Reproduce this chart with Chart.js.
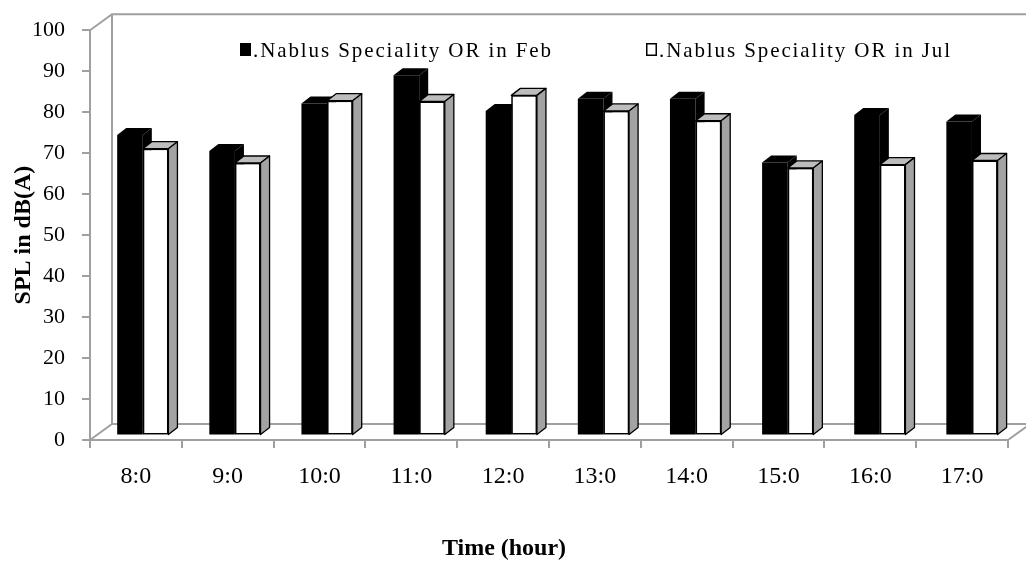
<!DOCTYPE html>
<html>
<head>
<meta charset="utf-8">
<script src="https://cdn.jsdelivr.net/npm/chart.js@4/dist/chart.umd.min.js"></script>
<style>
html,body{margin:0;padding:0;background:#fff;}
#wrap{width:1026px;height:564px;position:relative;}
</style>
</head>
<body>
<div id="wrap"><canvas id="c"></canvas></div>
<script>
// ---- data ----
const categories = ['8:0', '9:0', '10:0', '11:0', '12:0', '13:0', '14:0', '15:0', '16:0', '17:0'];
const seriesNames = ['.Nablus Speciality OR in Feb', '.Nablus Speciality OR in Jul'];
const febValues = [73.3, 69.4, 81.0, 87.9, 79.2, 82.2, 82.2, 66.6, 78.2, 76.6];
const julValues = [70.0, 66.5, 81.7, 81.5, 83.0, 79.2, 76.8, 65.3, 66.1, 67.1];
const yMin = 0, yMax = 100, yStep = 10;
const xTitle = 'Time (hour)';
const yTitle = 'SPL in dB(A)';

// ---- styling ----
const SERIF = "'Liberation Serif', 'Times New Roman', serif";
const GREY = '#a0a0a0';
const DEPTH = {dx: 9, dy: -7};        // bar depth
const WALL = {dx: 22, dy: -16};       // wall depth
const PLANE = {sx: 1.0036, tx: 6.4, ty: -4.5}; // bars plane offset (3D look)
const LEGEND_STYLE = {xs: [240, 646], boxTop: 43, boxW: 11, boxH: 13, textGap: 13, textY: 51, size: 21, spacing: '1.9px'};

Chart.defaults.font.family = SERIF;
Chart.defaults.color = '#000';

function drawFaces(ctx, meta, topFill, sideFill, stroke) {
  const {dx, dy} = DEPTH;
  meta.data.forEach(el => {
    const {x, y, base, width} = el.getProps(['x', 'y', 'base', 'width'], true);
    const l = x - width / 2, r = x + width / 2;
    ctx.beginPath();
    ctx.moveTo(l, y); ctx.lineTo(l + dx, y + dy); ctx.lineTo(r + dx, y + dy); ctx.lineTo(r, y); ctx.closePath();
    ctx.fillStyle = topFill; ctx.fill(); if (stroke) ctx.stroke();
    ctx.beginPath();
    ctx.moveTo(r, y); ctx.lineTo(r + dx, y + dy); ctx.lineTo(r + dx, base + dy); ctx.lineTo(r, base); ctx.closePath();
    ctx.fillStyle = sideFill; ctx.fill(); if (stroke) ctx.stroke();
  });
}

const threeD = {
  id: 'threeD',
  beforeDatasetsDraw(chart) {
    const {ctx, chartArea: a} = chart;
    const {dx, dy} = WALL;
    ctx.save();
    ctx.strokeStyle = GREY; ctx.lineWidth = 2;
    ctx.beginPath();
    ctx.moveTo(a.left, a.top); ctx.lineTo(a.left + dx, a.top + dy); ctx.lineTo(a.right + dx + 40, a.top + dy);
    ctx.moveTo(a.left + dx, a.top + dy); ctx.lineTo(a.left + dx, a.bottom + dy);
    ctx.moveTo(a.left, a.bottom); ctx.lineTo(a.left + dx, a.bottom + dy); ctx.lineTo(a.right + dx + 40, a.bottom + dy);
    ctx.moveTo(a.right, a.bottom); ctx.lineTo(a.right + dx, a.bottom + dy);
    ctx.stroke();
    ctx.restore();
    ctx.save();
    ctx.translate(PLANE.tx, PLANE.ty);
    ctx.scale(PLANE.sx, 1);
  },
  afterDatasetsDraw(chart) {
    const ctx = chart.ctx;
    const m0 = chart.getDatasetMeta(0), m1 = chart.getDatasetMeta(1);
    ctx.save();
    ctx.lineJoin = 'round'; ctx.strokeStyle = '#000'; ctx.lineWidth = 1.3;
    drawFaces(ctx, m0, '#000', '#000', false);
    ctx.restore();
    m1.data.forEach(el => el.draw(ctx));
    ctx.save();
    ctx.lineJoin = 'round'; ctx.strokeStyle = '#000'; ctx.lineWidth = 1.3;
    drawFaces(ctx, m1, '#bdbdbd', '#a3a3a3', true);
    ctx.restore();
    ctx.restore(); // plane translation
  },
  afterDraw(chart) {
    // legend (inside the plot, as in the original)
    const ctx = chart.ctx, L = LEGEND_STYLE;
    ctx.save();
    ctx.font = `${L.size}px ${SERIF}`;
    ctx.textBaseline = 'middle';
    ctx.textAlign = 'left';
    if ('letterSpacing' in ctx) ctx.letterSpacing = L.spacing;
    chart.data.datasets.forEach((ds, i) => {
      const x = L.xs[i];
      ctx.fillStyle = ds.backgroundColor;
      ctx.fillRect(x, L.boxTop, L.boxW, L.boxH);
      if (ds.borderWidth) {
        ctx.strokeStyle = ds.borderColor; ctx.lineWidth = 1.5;
        ctx.strokeRect(x + 0.75, L.boxTop + 0.75, L.boxW - 1.5, L.boxH - 1.5);
      }
      ctx.fillStyle = '#000';
      ctx.fillText(ds.label, x + L.textGap, L.textY);
    });
    ctx.restore();
  }
};

new Chart(document.getElementById('c'), {
  type: 'bar',
  data: {
    labels: categories,
    datasets: [
      {label: seriesNames[0], data: febValues, backgroundColor: '#000', borderColor: '#000', borderWidth: 0},
      {label: seriesNames[1], data: julValues, backgroundColor: '#fff', borderColor: '#000', borderWidth: 1.5, borderSkipped: false}
    ]
  },
  options: {
    responsive: true,
    maintainAspectRatio: false,
    animation: false,
    events: [],
    layout: {padding: {top: 28, right: 18, bottom: 0, left: 0}},
    datasets: {bar: {categoryPercentage: 0.556, barPercentage: 1}},
    plugins: {
      legend: {display: false},
      title: {
        display: true,
        text: xTitle,
        position: 'bottom',
        font: {family: SERIF, size: 24, weight: 'bold'},
        color: '#000',
        padding: {top: 0, bottom: 1}
      },
      tooltip: {enabled: false}
    },
    scales: {
      x: {
        grid: {display: true, drawOnChartArea: false, drawTicks: true, tickLength: 8, color: GREY, lineWidth: 2, offset: true},
        border: {display: true, color: GREY, width: 2},
        ticks: {font: {family: SERIF, size: 24}, color: '#000', padding: 14, maxRotation: 0, autoSkip: false},
        afterFit(scale) { scale.height = 564 - 440 - 29.8; }
      },
      y: {
        min: yMin, max: yMax,
        grid: {display: true, drawOnChartArea: false, drawTicks: true, tickLength: 8, color: GREY, lineWidth: 2},
        border: {display: true, color: GREY, width: 2},
        ticks: {stepSize: yStep, font: {family: SERIF, size: 22}, color: '#000', padding: 17},
        title: {display: true, text: yTitle, font: {family: SERIF, size: 24, weight: 'bold'}, color: '#000', padding: {top: 9, bottom: 0}},
        afterFit(scale) { scale.width = 90; }
      }
    }
  },
  plugins: [threeD]
});
</script>
</body>
</html>
